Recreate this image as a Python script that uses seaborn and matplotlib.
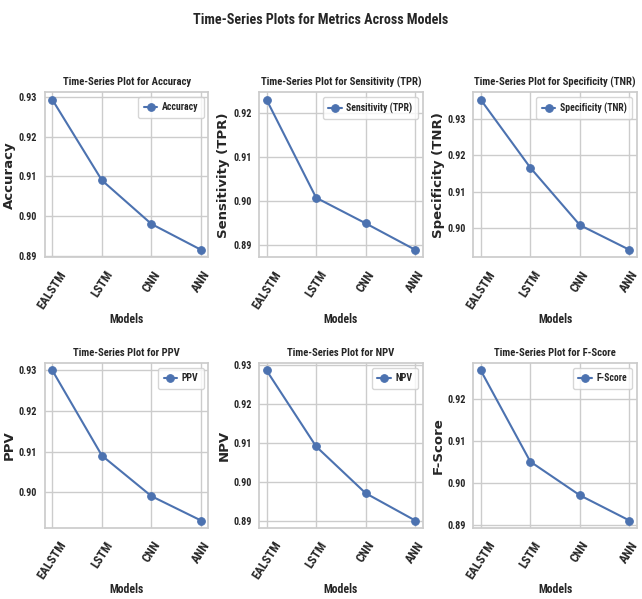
import matplotlib
matplotlib.use("Agg")
import matplotlib.pyplot as plt
from matplotlib import font_manager as fm
from matplotlib.ticker import MultipleLocator
import seaborn as sns
import pandas as pd

models = ["EALSTM", "LSTM", "CNN", "ANN"]
accuracy = [0.9293, 0.9090, 0.8980, 0.8915]
sensitivity = [0.9230, 0.9008, 0.8950, 0.8890]
specificity = [0.9353, 0.9166, 0.9008, 0.8940]
ppv = [0.9300, 0.9090, 0.8990, 0.8930]
npv = [0.9285, 0.9090, 0.8970, 0.8900]
fscore = [0.9267, 0.9050, 0.8970, 0.8910]

metric_names = ["Accuracy", "Sensitivity (TPR)", "Specificity (TNR)", "PPV", "NPV", "F-Score"]
metric_values = [accuracy, sensitivity, specificity, ppv, npv, fscore]

sns.set_theme(style="whitegrid")
names = {f.name for f in fm.fontManager.ttflist}
narrow = None
for cand in ["DejaVu Sans Condensed", "Liberation Sans Narrow", "Roboto Condensed", "Open Sans Condensed"]:
    if cand in names:
        narrow = cand
        break
plt.rcParams["font.family"] = [narrow or "DejaVu Sans", "DejaVu Sans"]

fig, axes = plt.subplots(2, 3, figsize=(6.42, 5.99), dpi=100)
fig.subplots_adjust(left=0.070, right=0.992, top=0.846, bottom=0.1185, wspace=0.31, hspace=0.64)

for ax, name, vals in zip(axes.flat, metric_names, metric_values):
    df = pd.DataFrame({"Models": models, name: vals})
    sns.lineplot(data=df, x="Models", y=name, marker="o", markersize=5.5, linewidth=1.5,
                 color="#4c72b0", markeredgecolor="#4c72b0", label=name, ax=ax, sort=False)
    ax.yaxis.set_major_locator(MultipleLocator(0.01))
    ax.set_title(f"Time-Series Plot for {name}", fontsize=7.7, fontweight="bold", pad=5)
    ax.set_xlabel("Models", fontsize=8.5, fontweight="bold", labelpad=1)
    ax.set_ylabel(name, fontsize=9.5, fontweight="bold", family="DejaVu Sans", labelpad=2)
    ax.tick_params(axis="x", length=0, labelsize=9, pad=8)
    ax.tick_params(axis="y", length=0, labelsize=7.3, pad=5.5)
    for lab in ax.get_xticklabels():
        lab.set_rotation(57)
        lab.set_fontweight("bold")
        lab.set_ha("center")
    for lab in ax.get_yticklabels():
        lab.set_fontweight("bold")
    ax.legend(loc="upper right", handlelength=1.4, borderpad=0.55, handletextpad=0.45,
              prop={"weight": "bold", "size": 7})
    for s in ax.spines.values():
        s.set_color("#cccccc")

fig.suptitle("Time-Series Plots for Metrics Across Models", fontsize=10.2, fontweight="bold", y=0.978)
fig.savefig("out.png", dpi=100)
